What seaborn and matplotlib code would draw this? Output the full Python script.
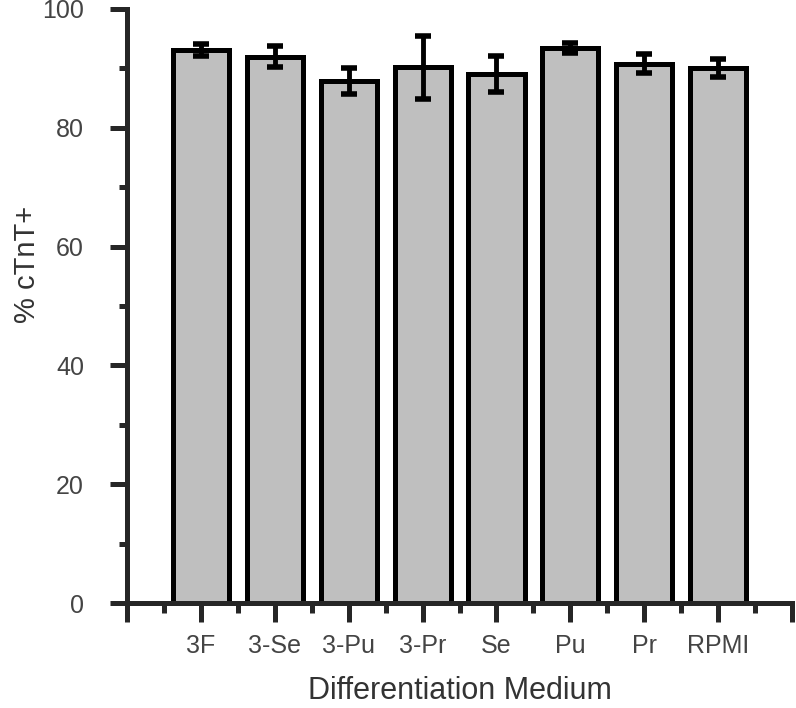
import numpy as np
import pandas as pd
import matplotlib
matplotlib.use("Agg")
import matplotlib.pyplot as plt
import seaborn as sns
from matplotlib.ticker import MultipleLocator, FixedLocator

# values
media = ["3F", "3-Se", "3-Pu", "3-Pr", "Se", "Pu", "Pr", "RPMI"]
mean_ctnt = [93.1, 92.0, 87.9, 90.2, 89.1, 93.4, 90.8, 90.1]
err_ctnt = [1.0, 1.7, 2.2, 5.3, 3.0, 0.8, 1.6, 1.5]

df = pd.DataFrame({"medium": media, "ctnt": mean_ctnt})

sns.set_style("ticks")
plt.rcParams["font.family"] = ["Liberation Sans", "DejaVu Sans"]

fig = plt.figure(figsize=(7.96, 7.08), dpi=100)
ax = fig.add_axes([0.1596, 0.1483, 0.8354, 0.839])

sns.barplot(data=df, x="medium", y="ctnt", color="#bfbfbf", width=0.76,
            edgecolor="black", linewidth=3.6, errorbar=None, saturation=1, ax=ax)
ax.errorbar(np.arange(len(media)), mean_ctnt, yerr=err_ctnt, fmt="none",
            ecolor="black", elinewidth=3.5, capsize=6, capthick=4, zorder=5)

ax.set_xlim(-1, 8)
ax.set_ylim(0, 100)
ax.xaxis.set_major_locator(FixedLocator(range(-1, 9)))
ax.set_xticklabels([""] + media + [""])
ax.xaxis.set_minor_locator(FixedLocator(np.arange(-0.5, 8, 1)))
ax.yaxis.set_major_locator(MultipleLocator(20))
ax.yaxis.set_minor_locator(MultipleLocator(10))

for side in ["top", "right"]:
    ax.spines[side].set_visible(False)
for side in ["left", "bottom"]:
    ax.spines[side].set_linewidth(3.6)

ax.tick_params(axis="y", which="major", length=12, width=3.6, pad=19,
               labelsize=18, labelcolor="#444444")
ax.tick_params(axis="y", which="minor", length=6, width=3.6)
ax.tick_params(axis="x", which="major", length=14, width=3.6, pad=8,
               labelsize=18, labelcolor="#444444")
ax.tick_params(axis="x", which="minor", length=7, width=3.6)

ax.set_xlabel("Differentiation Medium", fontsize=22, color="#333333")
ax.set_ylabel("% cTnT+", fontsize=21, color="#333333")
ax.xaxis.set_label_coords(0.5, -0.123)
ax.yaxis.set_label_coords(-0.13, 0.57)

fig.savefig("out.png", dpi=100)
